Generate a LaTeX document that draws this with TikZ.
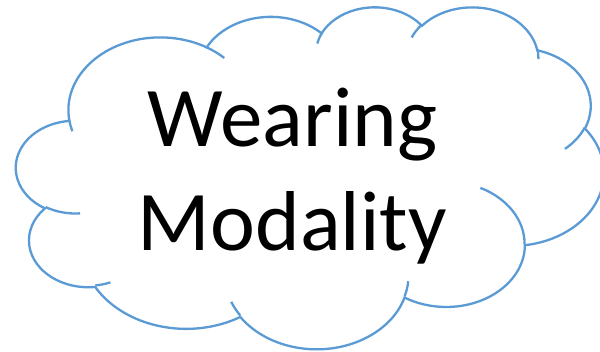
\documentclass[tikz,border=0pt]{standalone}
\usepackage{fontspec}
\setmainfont{Carlito}
\definecolor{cloudblue}{HTML}{5B9BD5}
\pgfmathdeclarefunction{vispar}{3}{%
  \begingroup
  \pgfmathparse{atan2((#1)*sin(#3),(#2)*cos(#3))}%
  \pgfmathsmuggle\pgfmathresult
  \endgroup}
\newcommand\carc[4]{arc[x radius=#1, y radius=#2, start angle={vispar(#1,#2,#3)}, delta angle={mod(vispar(#1,#2,(#3)+(#4))-vispar(#1,#2,#3)+720,360)}]}
\tikzset{
  cloudline/.style={draw=cloudblue, line width=2.3pt},
  cloudtext/.style={anchor=base, inner sep=0pt, font=\fontsize{85pt}{103pt}\selectfont}
}
\begin{document}
\begin{tikzpicture}[x=1pt,y=-1pt]
\fill[white] (0,0) rectangle (600,351);
\useasboundingbox (0,0) rectangle (600,351);
\clip (0,0) rectangle (600,351);
\begin{scope}[shift={(16.2pt,-6.2pt)}, x=1.36pt, y=-0.7914pt]
\draw[cloudline, fill=white] (39.00,143.70)
  \carc{67.53}{91.90}{-190.48748}{123.78053}
  \carc{53.33}{72.67}{-144.10238}{89.94523}
  \carc{43.65}{59.45}{-145.80792}{99.72302}
  \carc{48.57}{65.95}{-130.98607}{117.24173}
  \carc{53.33}{72.73}{-78.70888}{109.02692}
  \carc{67.75}{92.20}{-46.26725}{130.269}
  \carc{57.85}{78.67}{0.62502}{114.03333}
  \carc{67.52}{92.15}{22.4516}{115.17255}
  \carc{77.20}{105.43}{66.24263}{75.71102}
  \carc{43.60}{59.18}{-274.94208}{146.73557}
  \carc{43.45}{59.45}{-246.8285}{152.51885}
  -- cycle;
\draw[cloudline]
  (46.93,261.77) \carc{43.45}{59.45}{86.742}{26.4295}
  (69.28,348.99) \carc{43.60}{59.18}{73.61047}{11.44747}
  (164.78,390.90) \carc{67.52}{92.15}{137.62415}{14.0811}
  (288.27,347.51) \carc{67.52}{92.15}{6.45327}{15.99835}
  (341.29,229.54) \carc{57.85}{78.67}{-70.29235}{70.91737}
  (417.98,153.54) \carc{53.33}{72.73}{30.31803}{27.7515}
  (383.24,54.26) \carc{48.57}{65.95}{-13.74433}{14.8589}
  (290.78,39.52) \carc{48.57}{65.95}{-149.18145}{18.19537}
  (221.41,47.20) \carc{43.65}{59.45}{-163.49427}{17.68635}
  (140.00,51.92) \carc{67.53}{91.90}{-66.70695}{12.31935}
  (41.27,157.89) \carc{67.53}{91.90}{157.65435}{11.85817};
\end{scope}
\node[cloudtext] (w1) at (292.4,146.7) {Wearing};
\node[cloudtext] (w2) at (292.4,250) {Modality};
\end{tikzpicture}
\end{document}
